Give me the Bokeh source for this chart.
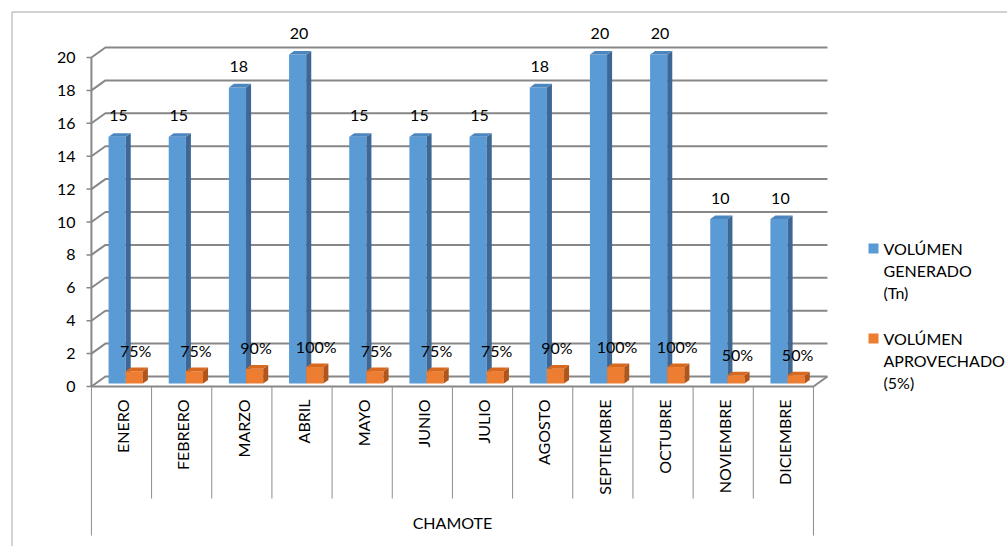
import math
from bokeh.plotting import figure
from bokeh.models import Range1d, ColumnDataSource
from bokeh.core.properties import value
from bokeh.embed import file_html
from bokeh.resources import INLINE

# ---- data -------------------------------------------------------------
months = ["ENERO", "FEBRERO", "MARZO", "ABRIL", "MAYO", "JUNIO", "JULIO",
          "AGOSTO", "SEPTIEMBRE", "OCTUBRE", "NOVIEMBRE", "DICIEMBRE"]
generado = [15, 15, 18, 20, 15, 15, 15, 18, 20, 20, 10, 10]
aprovechado = [0.75, 0.75, 0.90, 1.00, 0.75, 0.75, 0.75, 0.90, 1.00, 1.00, 0.50, 0.50]
y_ticks = [0, 2, 4, 6, 8, 10, 12, 14, 16, 18, 20]
group_label = "CHAMOTE"
series_names = ["VOLÚMEN GENERADO (Tn)", "VOLÚMEN APROVECHADO (5%)"]
legend_lines = [["VOLÚMEN", "GENERADO", "(Tn)"], ["VOLÚMEN", "APROVECHADO", "(5%)"]]

# ---- layout (pixels) ----------------------------------------------------
W, H = 1007, 546
CAT_PX = 60.17        # width of one category slot
CAT0_PX = 121.0       # x pixel of first category centre (front plane)
ZERO_PX = 386.0       # y pixel of value 0 (front plane)
UNIT_PX = 16.45       # pixels per value unit
DEPTH_DX_PX, DEPTH_DY_PX = 14.0, 10.0   # floor depth projection

def xd(px):
    return (px - CAT0_PX) / CAT_PX

def yd(px):
    return (ZERO_PX - px) / UNIT_PX

DX = DEPTH_DX_PX / CAT_PX
DY = DEPTH_DY_PX / UNIT_PX
N = len(months)
X_LEFT, X_RIGHT = -0.5, N - 0.5

FONT = value("Lato")
TXT = "16px"
GRID = "#878787"
BLUE = ("#5B9BD5", "#3D6895", "#4C86BE")     # front, side, top
ORANGE = ("#ED7D31", "#B0561C", "#D7691F")

p = figure(width=W, height=H, x_range=Range1d(xd(0), xd(W)),
           y_range=Range1d(yd(H), yd(0)), min_border=0,
           x_axis_location=None, y_axis_location=None,
           toolbar_location=None, output_backend="svg",
           outline_line_color=None, background_fill_color="white",
           border_fill_color="white")
p.grid.visible = False

# outer chart frame (top and left edges)
p.segment(x0=[xd(11.5), xd(11.5)], y0=[yd(11.5), yd(11.5)],
          x1=[xd(W), xd(11.5)], y1=[yd(11.5), yd(H)],
          line_color="#a6a6a6", line_width=1)

# back-wall gridlines with their diagonal run to the front axis
gx, gy = [], []
for t in y_ticks:
    gx.append([X_LEFT, X_LEFT + DX, X_RIGHT + DX])
    gy.append([t, t + DY, t + DY])
p.multi_line(xs=gx, ys=gy, line_color=GRID, line_width=2)

# short tick marks on the value axis
p.segment(x0=[xd(86)] * len(y_ticks), y0=y_ticks,
          x1=[X_LEFT] * len(y_ticks), y1=y_ticks,
          line_color=GRID, line_width=1.5)

# front axis line and floor edges
p.multi_line(xs=[[X_LEFT, X_LEFT], [X_LEFT, X_RIGHT, X_RIGHT + DX]],
             ys=[[0, y_ticks[-1]], [0, 0, DY]],
             line_color=GRID, line_width=2)

# value tick labels
p.text(x=[xd(75)] * len(y_ticks), y=y_ticks, text=[str(t) for t in y_ticks],
       text_align="right", text_baseline="middle", text_font=FONT,
       text_font_size=TXT, text_color="#000000")

# ---- 3D columns -----------------------------------------------------------
BAR_W = 0.285
F0, F1 = 0.30, 0.66   # depth span of the columns

def boxes(vals, offset):
    front = dict(left=[], right=[], bottom=[], top=[])
    side_x, side_y, top_x, top_y = [], [], [], []
    for i, v in enumerate(vals):
        xl = i + offset
        xr = xl + BAR_W
        front["left"].append(xl + F0 * DX)
        front["right"].append(xr + F0 * DX)
        front["bottom"].append(F0 * DY)
        front["top"].append(v + F0 * DY)
        side_x.append([xr + F0 * DX, xr + F1 * DX, xr + F1 * DX, xr + F0 * DX])
        side_y.append([F0 * DY, F1 * DY, v + F1 * DY, v + F0 * DY])
        top_x.append([xl + F0 * DX, xr + F0 * DX, xr + F1 * DX, xl + F1 * DX])
        top_y.append([v + F0 * DY, v + F0 * DY, v + F1 * DY, v + F1 * DY])
    return front, side_x, side_y, top_x, top_y

for vals, offset, cols in ((generado, -BAR_W, BLUE), (aprovechado, 0.0, ORANGE)):
    front, sx, sy, tx, ty = boxes(vals, offset)
    p.quad(source=ColumnDataSource(front), left="left", right="right",
           bottom="bottom", top="top", fill_color=cols[0], line_color=None)
    p.patches(xs=sx, ys=sy, fill_color=cols[1], line_color=None)
    p.patches(xs=tx, ys=ty, fill_color=cols[2], line_color=None)

# data labels
LABEL_GAP = 21.0 / UNIT_PX
lab_x, lab_y, lab_t = [], [], []
for i, v in enumerate(generado):
    lab_x.append(i - BAR_W / 2 + (F0 + 0.1) * DX)
    lab_y.append(v + F0 * DY + LABEL_GAP)
    lab_t.append(f"{v:g}")
for i, v in enumerate(aprovechado):
    lab_x.append(i + BAR_W / 2 + (F0 + 0.1) * DX)
    lab_y.append(v + F0 * DY + LABEL_GAP)
    lab_t.append(f"{v:.0%}")
p.text(x=lab_x, y=lab_y, text=lab_t, text_align="center",
       text_baseline="middle", text_font=FONT, text_font_size=TXT,
       text_color="#000000")

# ---- category axis boxes ------------------------------------------------------
sep_x0 = [X_LEFT + k for k in range(N + 1)]
sep_y1 = [yd(535) if k in (0, N) else yd(498) for k in range(N + 1)]
p.segment(x0=sep_x0, y0=[0] * (N + 1), x1=sep_x0, y1=sep_y1,
          line_color="#8c8c8c", line_width=1)

p.text(x=[i + 0.02 for i in range(N)], y=[yd(399)] * N, text=months,
       angle=math.pi / 2, text_align="right", text_baseline="middle",
       text_font=FONT, text_font_size="16px", text_color="#000000")

p.text(x=[(X_LEFT + X_RIGHT) / 2], y=[yd(522)], text=[group_label],
       text_align="center", text_baseline="middle", text_font=FONT,
       text_font_size=TXT, text_color="#000000")

# ---- legend -------------------------------------------------------------------------
legend_top_px = [248, 338]
for lines, top_px, cols in zip(legend_lines, legend_top_px, (BLUE, ORANGE)):
    p.scatter(x=[xd(873)], y=[yd(top_px)], marker="square", size=10,
              fill_color=cols[0], line_color=None)
    p.text(x=[xd(883)] * len(lines),
           y=[yd(top_px + 22 * k) for k in range(len(lines))], text=lines,
           text_align="left", text_baseline="middle", text_font=FONT,
           text_font_size=TXT, text_color="#000000")

open("out.html", "w").write(file_html(p, INLINE))
